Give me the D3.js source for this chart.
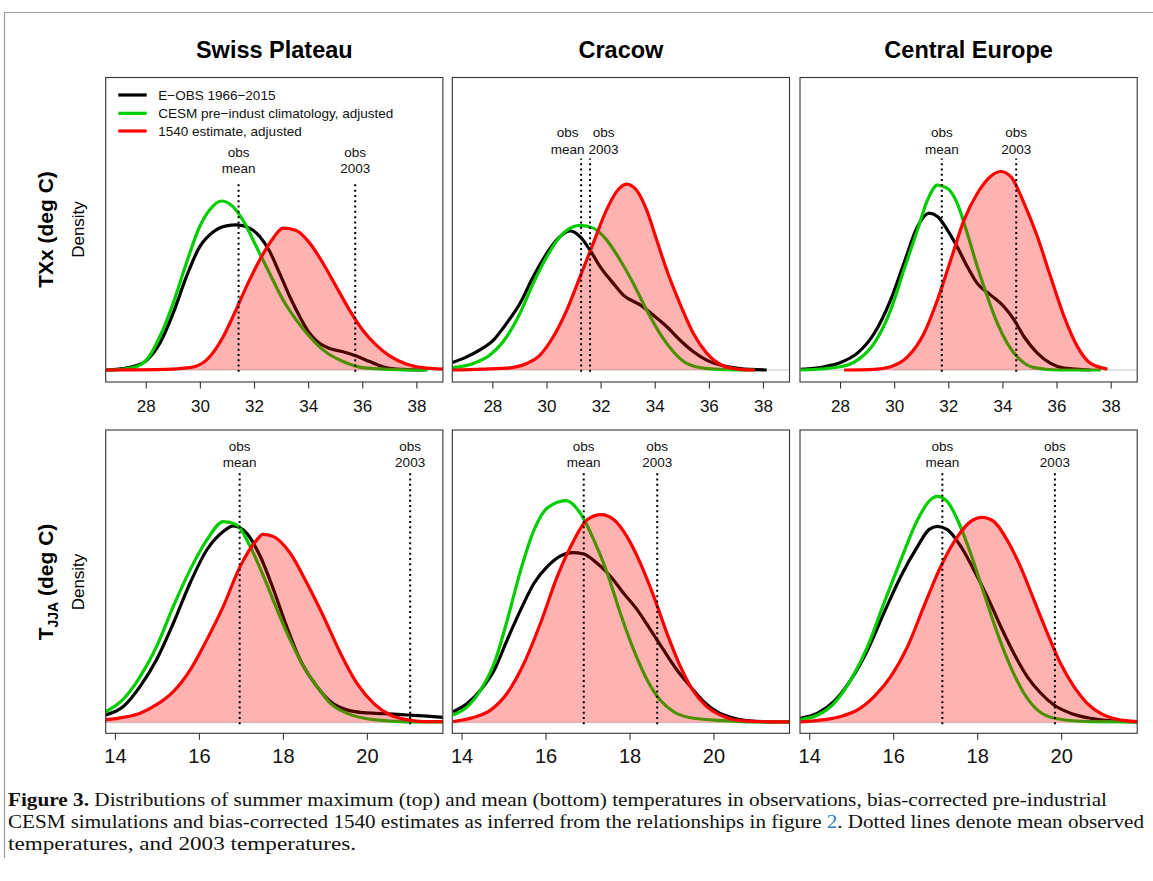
<!DOCTYPE html>
<html><head><meta charset="utf-8">
<script src="https://cdn.jsdelivr.net/npm/d3@7"></script>
<style>body{margin:0;background:#fff} svg{display:block}</style>
</head><body>
<svg id="c" width="1153" height="881"></svg>
<script>
// ---------------- DATA ----------------
const regions = ["Swiss Plateau", "Cracow", "Central Europe"];
const seriesNames = ["E\u2212OBS 1966\u22122015", "CESM pre\u2212indust climatology, adjusted", "1540 estimate, adjusted"];
const txTicks = [28, 30, 32, 34, 36, 38];
const tjjaTicks = [14, 16, 18, 20];
const txDomain = [26.52, 38.98];
const tjjaDomain = [13.78, 21.81];
const densityMax = 0.6;

// TXx  [temperature, density]
const swissTXxObs = [[26.51,0],[27.0,0.002],[27.5,0.007],[28.02,0.020],[28.52,0.057],[29.01,0.121],[29.50,0.199],[29.99,0.263],[30.49,0.295],[30.98,0.308],[31.35,0.310],[31.84,0.303],[32.21,0.285],[32.58,0.253],[32.95,0.206],[33.32,0.157],[33.69,0.114],[34.06,0.078],[34.42,0.057],[34.79,0.046],[35.29,0.039],[35.78,0.030],[36.27,0.018],[36.76,0.007],[37.26,0.002],[38.30,0]];
const swissTXxCesm = [[26.51,0],[27.0,0.001],[27.53,0.005],[27.8,0.011],[28.02,0.021],[28.52,0.071],[29.01,0.142],[29.50,0.228],[29.99,0.306],[30.36,0.342],[30.82,0.361],[31.22,0.349],[31.59,0.320],[32.09,0.263],[32.58,0.206],[33.07,0.150],[33.56,0.107],[34.06,0.071],[34.55,0.043],[35.29,0.018],[36.02,0.005],[37.01,0.0014],[38.42,0]];
const swissTXx1540 = [[26.51,0],[28.39,0.0007],[29.62,0.005],[30.24,0.021],[30.86,0.071],[31.22,0.114],[31.72,0.178],[32.21,0.235],[32.70,0.281],[33.07,0.303],[33.56,0.298],[34.06,0.271],[34.55,0.228],[35.04,0.178],[35.53,0.128],[36.02,0.085],[36.52,0.053],[37.01,0.030],[37.62,0.013],[38.24,0.005],[38.98,0.002]];

const cracowTXxObs = [[26.52,0.016],[27.05,0.028],[27.54,0.043],[28.04,0.064],[28.53,0.100],[29.02,0.142],[29.51,0.199],[30.01,0.249],[30.50,0.285],[30.87,0.297],[31.24,0.285],[31.61,0.256],[31.98,0.221],[32.47,0.185],[32.84,0.160],[33.46,0.139],[33.95,0.117],[34.44,0.093],[34.93,0.064],[35.43,0.039],[35.92,0.021],[36.53,0.009],[37.15,0.003],[38.14,0]];
const cracowTXxCesm = [[26.52,0.005],[27.30,0.014],[27.91,0.032],[28.53,0.071],[29.02,0.121],[29.51,0.185],[30.01,0.242],[30.50,0.285],[30.99,0.306],[31.24,0.309],[31.73,0.303],[32.22,0.278],[32.72,0.235],[33.21,0.185],[33.70,0.128],[34.19,0.078],[34.69,0.039],[35.18,0.014],[35.92,0.003],[37.15,0],[37.70,0]];
const cracowTXx1540 = [[26.52,0],[28.53,0.004],[29.27,0.014],[29.76,0.032],[30.25,0.071],[30.75,0.128],[31.24,0.199],[31.73,0.271],[32.22,0.342],[32.59,0.381],[32.96,0.397],[33.33,0.384],[33.70,0.342],[34.07,0.278],[34.44,0.214],[34.93,0.142],[35.43,0.078],[35.92,0.036],[36.53,0.009],[37.15,0.0014],[37.70,0]];

const ceTXxObs = [[26.55,0.0014],[27.41,0.007],[28.02,0.016],[28.64,0.036],[29.26,0.078],[29.87,0.150],[30.36,0.228],[30.86,0.306],[31.29,0.335],[31.60,0.328],[31.97,0.299],[32.33,0.263],[32.70,0.221],[33.07,0.185],[33.57,0.160],[34.06,0.135],[34.43,0.107],[34.80,0.071],[35.29,0.036],[35.78,0.014],[36.28,0.004],[37.26,0]];
const ceTXxCesm = [[26.55,0],[28.02,0.007],[28.64,0.021],[29.26,0.057],[29.87,0.128],[30.36,0.214],[30.86,0.299],[31.23,0.363],[31.60,0.395],[31.97,0.388],[32.33,0.356],[32.70,0.292],[33.07,0.221],[33.44,0.157],[33.81,0.100],[34.18,0.057],[34.67,0.021],[35.17,0.005],[36.03,0],[37.63,0]];
const ceTXx1540 = [[28.15,0],[29.26,0.0014],[29.87,0.007],[30.49,0.028],[31.10,0.078],[31.60,0.150],[32.09,0.235],[32.58,0.320],[33.07,0.377],[33.57,0.414],[33.94,0.424],[34.31,0.413],[34.80,0.356],[35.29,0.285],[35.78,0.199],[36.28,0.114],[36.77,0.050],[37.26,0.014],[37.88,0.002]];

// TJJA
const swissTJJAObs = [[13.78,0.016],[14.20,0.034],[14.60,0.077],[14.99,0.134],[15.39,0.212],[15.79,0.298],[16.19,0.369],[16.58,0.408],[16.82,0.420],[17.14,0.404],[17.46,0.355],[17.78,0.283],[18.09,0.205],[18.41,0.134],[18.81,0.077],[19.13,0.045],[19.52,0.027],[19.92,0.021],[20.40,0.019],[20.96,0.016],[21.35,0.014],[21.81,0.011]];
const swissTJJACesm = [[13.78,0.023],[14.20,0.050],[14.60,0.098],[14.99,0.162],[15.39,0.248],[15.79,0.326],[16.19,0.390],[16.58,0.429],[16.90,0.422],[17.22,0.376],[17.54,0.312],[17.86,0.241],[18.17,0.177],[18.49,0.120],[18.81,0.077],[19.13,0.041],[19.52,0.020],[20.16,0.006],[20.96,0.0014],[21.81,0.0014]];
const swissTJJA1540 = [[13.78,0.006],[14.20,0.011],[14.60,0.020],[14.99,0.038],[15.39,0.066],[15.79,0.112],[16.19,0.177],[16.58,0.248],[16.98,0.333],[17.38,0.390],[17.52,0.402],[17.78,0.397],[18.17,0.362],[18.57,0.298],[18.97,0.226],[19.37,0.148],[19.76,0.084],[20.16,0.041],[20.56,0.016],[20.96,0.006],[21.35,0.002],[21.81,0.002]];

const cracowTJJAObs = [[13.80,0.023],[14.14,0.041],[14.46,0.070],[14.78,0.112],[15.09,0.177],[15.41,0.241],[15.73,0.298],[16.04,0.333],[16.36,0.356],[16.64,0.363],[16.91,0.360],[17.23,0.340],[17.55,0.312],[17.86,0.276],[18.18,0.241],[18.50,0.198],[18.81,0.155],[19.13,0.112],[19.45,0.077],[19.76,0.045],[20.08,0.023],[20.40,0.011],[20.79,0.004],[21.43,0.0014],[21.81,0.0014]];
const cracowTJJACesm = [[13.80,0.016],[14.14,0.034],[14.46,0.070],[14.78,0.127],[15.09,0.219],[15.41,0.326],[15.73,0.412],[16.04,0.458],[16.49,0.474],[16.83,0.447],[17.15,0.390],[17.47,0.319],[17.78,0.234],[18.10,0.155],[18.42,0.091],[18.73,0.048],[19.05,0.023],[19.53,0.009],[20.24,0.004],[21.03,0.0014],[21.81,0.0014]];
const cracowTJJA1540 = [[13.80,0.002],[14.30,0.011],[14.70,0.027],[15.09,0.063],[15.49,0.127],[15.88,0.212],[16.28,0.312],[16.68,0.390],[16.99,0.433],[17.33,0.444],[17.63,0.433],[17.94,0.397],[18.26,0.340],[18.58,0.269],[18.89,0.191],[19.21,0.120],[19.53,0.066],[19.84,0.034],[20.24,0.013],[20.63,0.004],[21.43,0.0014],[21.81,0.0014]];

const ceTJJAObs = [[13.79,0.009],[14.20,0.020],[14.59,0.045],[14.99,0.091],[15.39,0.155],[15.78,0.234],[16.18,0.312],[16.58,0.376],[16.85,0.412],[17.05,0.419],[17.29,0.412],[17.61,0.376],[17.92,0.326],[18.24,0.269],[18.56,0.205],[18.87,0.148],[19.19,0.098],[19.51,0.063],[19.82,0.038],[20.22,0.020],[20.70,0.009],[21.17,0.004],[21.81,0.0014]];
const ceTJJACesm = [[13.79,0.006],[14.20,0.016],[14.59,0.041],[14.99,0.091],[15.39,0.162],[15.78,0.255],[16.18,0.347],[16.58,0.433],[16.89,0.476],[17.05,0.483],[17.29,0.472],[17.53,0.433],[17.84,0.362],[18.16,0.276],[18.48,0.191],[18.79,0.120],[19.11,0.063],[19.43,0.027],[19.90,0.008],[20.70,0.002],[21.81,0.0014]];
const ceTJJA1540 = [[13.79,0.0014],[14.36,0.006],[14.75,0.013],[15.15,0.027],[15.55,0.056],[15.94,0.098],[16.34,0.162],[16.73,0.248],[17.13,0.333],[17.53,0.397],[17.84,0.429],[18.12,0.438],[18.40,0.429],[18.71,0.390],[19.03,0.333],[19.35,0.262],[19.67,0.191],[19.98,0.127],[20.30,0.077],[20.62,0.041],[20.93,0.020],[21.33,0.007],[21.81,0.002]];

// observed reference temperatures (dotted lines)
const obsMeanTXx = [31.43, 31.28, 31.76];
const obs2003TXx = [35.74, 31.61, 34.51];
const obsMeanTJJA = [16.97, 16.91, 17.17];
const obs2003TJJA = [21.03, 18.66, 19.85];
const markerTopTXx = [0.402, 0.452, 0.452];
const markerTopTJJA = [0.533, 0.533, 0.533];
const labelTXx = [0.421, 0.462, 0.462];
const labelTJJA = [0.545, 0.545, 0.545];

const captionLines = [
  ["Distributions of summer maximum (top) and mean (bottom) temperatures in observations, bias-corrected pre-industrial"],
  ["CESM simulations and bias-corrected 1540 estimates as inferred from the relationships in figure ", "2", ". Dotted lines denote mean observed"],
  ["temperatures, and 2003 temperatures."]
];

// ---------------- LAYOUT ----------------
const colLeft = [105.7, 452.3, 800];
const panelW = 337.2;
const rowsCfg = [
  {top: 77.5, bottom: 382, base: 370, topVal: 89.1, domain: txDomain, ticks: txTicks, tickFont: 17, tickPad: 11.5,
   obs: [swissTXxObs, cracowTXxObs, ceTXxObs], cesm: [swissTXxCesm, cracowTXxCesm, ceTXxCesm], est: [swissTXx1540, cracowTXx1540, ceTXx1540],
   mean: obsMeanTXx, y2003: obs2003TXx, mTop: markerTopTXx, lab: labelTXx},
  {top: 430, bottom: 733.3, base: 722.5, topVal: 441.6, domain: tjjaDomain, ticks: tjjaTicks, tickFont: 20, tickPad: 8.8,
   obs: [swissTJJAObs, cracowTJJAObs, ceTJJAObs], cesm: [swissTJJACesm, cracowTJJACesm, ceTJJACesm], est: [swissTJJA1540, cracowTJJA1540, ceTJJA1540],
   mean: obsMeanTJJA, y2003: obs2003TJJA, mTop: markerTopTJJA, lab: labelTJJA}
];
const COL_OBS = "#000000", COL_CESM = "#00cd00", COL_EST = "#ff0000";
const FILL_EST = "rgba(255,0,0,0.3)";
const LW = 3.2;
const SANS = "'Liberation Sans', Arial, Helvetica, sans-serif";
const CURVE = d3.curveMonotoneX;

const svg = d3.select("#c");
svg.append("rect").attr("width", 1153).attr("height", 881).attr("fill", "#fff");

// outer frame
svg.append("path").attr("d", "M4.5,858 L4.5,12.5 L1153,12.5").attr("fill", "none").attr("stroke", "#9a9a9a").attr("stroke-width", 1.2);

// column titles
regions.forEach((r, i) => {
  svg.append("text").attr("x", colLeft[i] + panelW / 2).attr("y", 58).attr("text-anchor", "middle")
    .attr("font-family", SANS).attr("font-weight", "bold").attr("font-size", 23.5).text(r);
});

// row labels
svg.append("text").attr("transform", "translate(52.5,229.5) rotate(-90)").attr("text-anchor", "middle")
  .attr("font-family", SANS).attr("font-weight", "bold").attr("font-size", 21).text("TXx (deg C)");
const rl2 = svg.append("text").attr("transform", "translate(52.5,582) rotate(-90)").attr("text-anchor", "middle")
  .attr("font-family", SANS).attr("font-weight", "bold").attr("font-size", 21);
rl2.append("tspan").text("T");
rl2.append("tspan").attr("font-size", 14).attr("dy", 5).text("JJA");
rl2.append("tspan").attr("dy", -5).text(" (deg C)");
[229.5, 582].forEach(cy => {
  svg.append("text").attr("transform", `translate(84,${cy}) rotate(-90)`).attr("text-anchor", "middle")
    .attr("font-family", SANS).attr("font-size", 17).text("Density");
});

// panels
rowsCfg.forEach((R, ri) => {
  const y = d3.scaleLinear().domain([0, densityMax]).range([R.base, R.topVal]);
  colLeft.forEach((L, ci) => {
    const x = d3.scaleLinear().domain(R.domain).range([L, L + panelW]);
    const g = svg.append("g");
    const cid = `clip${ri}${ci}`;
    svg.append("clipPath").attr("id", cid).append("rect")
      .attr("x", L).attr("y", R.top).attr("width", panelW).attr("height", R.bottom - R.top);
    const pg = g.append("g").attr("clip-path", `url(#${cid})`);
    const line = d3.line().x(d => x(d[0])).y(d => y(d[1])).curve(CURVE);
    const area = d3.area().x(d => x(d[0])).y0(y(0)).y1(d => y(d[1])).curve(CURVE);
    // zero line
    pg.append("line").attr("x1", L).attr("x2", L + panelW).attr("y1", y(0)).attr("y2", y(0))
      .attr("stroke", "#d8d8d8").attr("stroke-width", 1.5);
    pg.append("path").attr("d", line(R.obs[ci])).attr("fill", "none").attr("stroke", COL_OBS).attr("stroke-width", LW);
    pg.append("path").attr("d", line(R.cesm[ci])).attr("fill", "none").attr("stroke", COL_CESM).attr("stroke-width", LW);
    pg.append("path").attr("d", area(R.est[ci])).attr("fill", FILL_EST).attr("stroke", "none");
    pg.append("path").attr("d", line(R.est[ci])).attr("fill", "none").attr("stroke", COL_EST).attr("stroke-width", LW);

    // dotted markers
    const mx = [R.mean[ci], R.y2003[ci]];
    const close = Math.abs(x(mx[0]) - x(mx[1])) < 40;
    const labels = [["obs", "mean"], ["obs", "2003"]];
    mx.forEach((v, k) => {
      pg.append("line").attr("x1", x(v)).attr("x2", x(v)).attr("y1", y(-0.004)).attr("y2", y(R.mTop[ci]))
        .attr("stroke", "#000").attr("stroke-width", 2).attr("stroke-dasharray", "2,3.3");
      let lx = x(v);
      if (close) lx += (k === 0 ? -13.5 : 13.5);
      const t = g.append("text").attr("font-family", SANS).attr("font-size", 13.5).attr("text-anchor", "middle").attr("fill", "#111");
      t.append("tspan").attr("x", lx).attr("y", y(R.lab[ci]) - 16.3).text(labels[k][0]);
      t.append("tspan").attr("x", lx).attr("y", y(R.lab[ci])).text(labels[k][1]);
    });

    // box
    g.append("rect").attr("x", L).attr("y", R.top).attr("width", panelW).attr("height", R.bottom - R.top)
      .attr("fill", "none").attr("stroke", "#333").attr("stroke-width", 1.1);

    // axis
    const ax = g.append("g").attr("transform", `translate(0,${R.bottom})`)
      .call(d3.axisBottom(x).tickValues(R.ticks).tickSize(6.5).tickPadding(R.tickPad).tickFormat(d3.format("d")));
    ax.select(".domain").remove();
    ax.selectAll(".tick line").attr("stroke", "#333").attr("stroke-width", 1.1);
    ax.selectAll(".tick text").attr("font-family", SANS).attr("font-size", R.tickFont).attr("fill", "#111");
  });
});

// legend (first panel)
const legendColors = [COL_OBS, COL_CESM, COL_EST];
const legY = [95, 113.3, 131];
seriesNames.forEach((s, i) => {
  svg.append("line").attr("x1", 118.3).attr("x2", 146.7).attr("y1", legY[i]).attr("y2", legY[i])
    .attr("stroke", legendColors[i]).attr("stroke-width", LW);
  svg.append("text").attr("x", 158.3).attr("y", legY[i] + 4.8).attr("font-family", SANS).attr("font-size", 13.5)
    .attr("fill", "#111").text(s);
});

// caption
const capBase = [806, 828, 850];
const capLen = [1099, 1136, 348];
captionLines.forEach((parts, i) => {
  const t = svg.append("text").attr("x", 8).attr("y", capBase[i]).attr("font-family", "'Liberation Serif', 'Times New Roman', serif")
    .attr("font-size", 18).attr("fill", "#111").attr("textLength", capLen[i]).attr("lengthAdjust", "spacingAndGlyphs");
  if (i === 0) t.append("tspan").attr("font-weight", "bold").text("Figure 3. ");
  parts.forEach((p, k) => {
    const ts = t.append("tspan").text(p);
    if (i === 1 && k === 1) ts.attr("fill", "#2d7cc0");
  });
});
</script>
</body></html>
